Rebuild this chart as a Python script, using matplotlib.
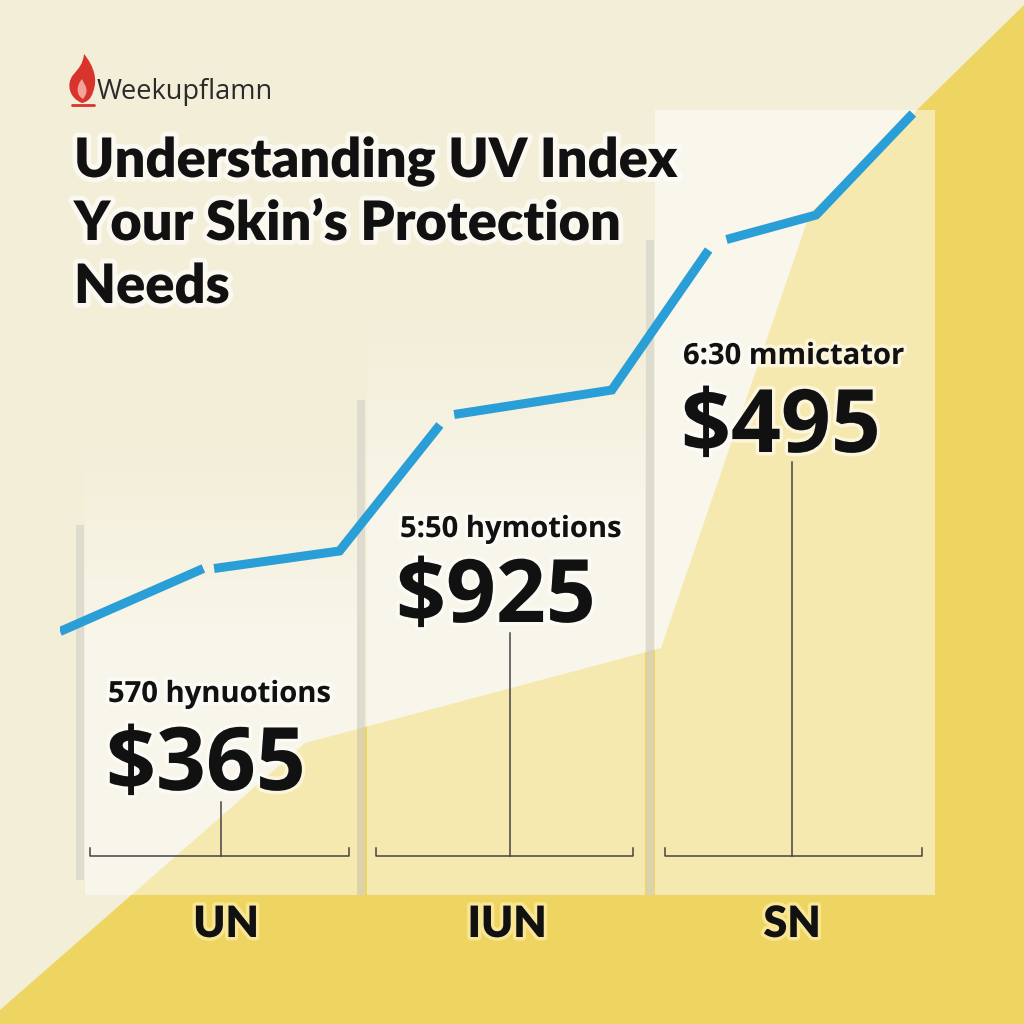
import matplotlib
matplotlib.use("Agg")
import matplotlib.pyplot as plt
import matplotlib.patheffects as pe
from matplotlib.patches import Polygon, Rectangle, PathPatch
from matplotlib.path import Path
import numpy as np

# ---- data ----
categories = ["UN", "IUN", "SN"]
prices = ["$365", "$925", "$495"]
sub_labels = ["570 hynuotions", "5:50 hymotions", "6:30 mmictator"]

# uv line, drawn in four pieces (small gaps between them)
hours_1 = [0.0, 2.0]
uv_1 = [3.55, 4.45]
hours_2 = [2.15, 3.9, 5.3]
uv_2 = [4.45, 4.7, 6.5]
hours_3 = [5.5, 7.7, 9.05]
uv_3 = [6.65, 7.0, 9.0]
hours_4 = [9.3, 10.55, 11.9]
uv_4 = [9.15, 9.5, 10.95]

narrow = "Lato"
body = "Open Sans"

CREAM = "#f3eed8"
YELLOW = "#eed461"
BLUE = "#2a9ed7"
INK = "#111111"
glow = [pe.withStroke(linewidth=5, foreground="white", alpha=0.55)]

fig = plt.figure(figsize=(10.24, 10.24), dpi=100)
fig.patch.set_facecolor(CREAM)

# background / layout axes in pixel units (y down)
bg = fig.add_axes([0, 0, 1, 1])
bg.set_xlim(0, 1024)
bg.set_ylim(1024, 0)
bg.axis("off")

# yellow wedge
wedge = [(0, 1010), (305, 743), (661, 648), (810, 213), (917, 110), (1024, 5),
         (1024, 1024), (0, 1024)]
bg.add_patch(Polygon(wedge, closed=True, facecolor=YELLOW, edgecolor="none", zorder=1))

# panels (white veil, fading in at the top of the first two)
panels = [(85, 357, 525), (367, 645, 400), (655, 935, 110)]
for i, (x0, x1, top) in enumerate(panels):
    if i < 2:
        n = 300
        grad = np.ones((n, 2, 4))
        rows = np.linspace(top - 80, 895, n)
        grad[:, :, 3] = (np.clip((rows - (top - 80)) / 200.0, 0, 1) * 0.5)[:, None]
        bg.imshow(grad, extent=(x0, x1, 895, top - 80), aspect="auto", zorder=2,
                  interpolation="bilinear")
    else:
        bg.add_patch(Rectangle((x0, top), x1 - x0, 895 - top, facecolor="white",
                               alpha=0.5, edgecolor="none", zorder=2))

# grey divider bars
bars = [(80, 525, 880), (361, 400, 895), (650, 240, 895)]
for x, y0, y1 in bars:
    bg.add_patch(Rectangle((x - 4, y0), 8, y1 - y0, facecolor="#d6d3cc",
                           alpha=0.7, edgecolor="none", zorder=3))

# brackets with stems under each value
brackets = [(90, 349, 221, 802), (376, 633, 510, 633), (665, 922, 792, 462)]
for xl, xr, xs, ys in brackets:
    bg.plot([xl, xl, xr, xr], [848, 856, 856, 848], color="#444444", lw=1.1, zorder=4)
    bg.plot([xs, xs], [ys, 856], color="#444444", lw=1.1, zorder=4)

# labels in panels
sub_pos = [(108, 702), (400, 537), (683, 364)]
price_pos = [(106, 790), (396, 622), (681, 452)]
cat_x = [226, 507, 792]
for i in range(3):
    bg.text(sub_pos[i][0], sub_pos[i][1], sub_labels[i], fontsize=21,
            fontfamily=body, fontweight="bold", color=INK, va="baseline",
            path_effects=glow, zorder=6)
    bg.text(price_pos[i][0], price_pos[i][1], prices[i], fontsize=63,
            fontfamily=body, fontweight="bold", color=INK, va="baseline",
            path_effects=glow, zorder=6)
    bg.text(cat_x[i], 937, categories[i], fontsize=31, fontfamily=narrow,
            fontweight="heavy", color=INK, ha="center", va="baseline",
            path_effects=[pe.withStroke(linewidth=5, foreground="#fff3b8", alpha=0.6)],
            zorder=6)

# title
title_lines = ["Understanding UV Index", "Your Skin\u2019s Protection", "Needs"]
for j, line in enumerate(title_lines):
    bg.text(74, 177 + j * 63, line, fontsize=39, fontfamily=narrow,
            fontweight="heavy", color=INK, va="baseline",
            path_effects=[pe.withStroke(linewidth=7, foreground="white", alpha=0.6)],
            zorder=6)

# logo: small flame + name
flame = Path([(82, 103), (69, 98), (66, 84), (73, 75), (79, 68), (83, 64), (84, 54),
              (94, 66), (98, 80), (93, 92), (91, 99), (87, 102), (82, 103)],
             [Path.MOVETO] + [Path.CURVE4] * 12)
bg.add_patch(PathPatch(flame, facecolor="#d9342b", edgecolor="none", zorder=6))
inner = Path([(83, 99), (76, 95), (76, 86), (82, 79), (85, 86), (90, 90), (83, 99)],
             [Path.MOVETO] + [Path.CURVE4] * 6)
bg.add_patch(PathPatch(inner, facecolor="#f3a39a", edgecolor="none", zorder=7))
bg.plot([72, 94], [105, 105], color="#d9342b", lw=2, solid_capstyle="round", zorder=6)
bg.text(97, 99, "Weekupflamn", fontsize=19.5, fontfamily=body, color="#2a2a2a",
        va="baseline", zorder=6)

# data axes for the uv line
ax = fig.add_axes([60 / 1024, (1024 - 880) / 1024, 860 / 1024, 770 / 1024])
ax.set_xlim(0, 12)
ax.set_ylim(0, 11)
ax.axis("off")
ax.patch.set_alpha(0)
for hx, uy in [(hours_1, uv_1), (hours_2, uv_2), (hours_3, uv_3), (hours_4, uv_4)]:
    ax.plot(hx, uy, color=BLUE, lw=6.5, solid_capstyle="butt",
            solid_joinstyle="miter", zorder=5)

fig.savefig("out.png", dpi=100, facecolor=fig.get_facecolor())
